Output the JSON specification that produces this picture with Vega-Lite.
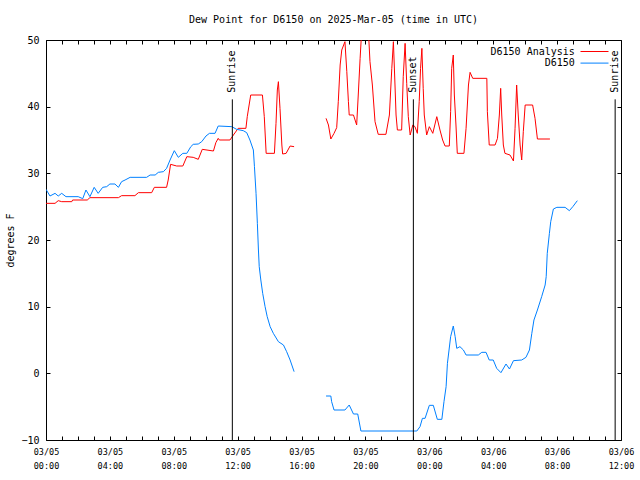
{
  "$schema": "https://vega.github.io/schema/vega-lite/v6.json",
  "width": 575,
  "height": 400,
  "autosize": "none",
  "padding": {"left": 46, "top": 40, "right": 19, "bottom": 40},
  "background": "white",
  "title": {"text": "Dew Point for D6150 on 2025-Mar-05 (time in UTC)", "font": "DejaVu Sans Mono", "fontSize": 10, "fontWeight": "normal", "color": "black", "offset": 2, "anchor": "middle"},
  "config": {"view": {"stroke": "black", "strokeWidth": 1}},
  "datasets": {
    "sun": [
      {"t": "2025-03-05T11:40:00Z", "event": "Sunrise"},
      {"t": "2025-03-05T23:00:00Z", "event": "Sunset"},
      {"t": "2025-03-06T11:38:00Z", "event": "Sunrise"}
    ],
    "obs": [
      {"t": "2025-03-05T00:00:00Z", "series": "D6150 Analysis", "seg": 1, "v": 25.5},
      {"t": "2025-03-05T00:34:00Z", "series": "D6150 Analysis", "seg": 1, "v": 25.5},
      {"t": "2025-03-05T00:46:00Z", "series": "D6150 Analysis", "seg": 1, "v": 25.9},
      {"t": "2025-03-05T00:59:00Z", "series": "D6150 Analysis", "seg": 1, "v": 25.75},
      {"t": "2025-03-05T01:37:00Z", "series": "D6150 Analysis", "seg": 1, "v": 25.75},
      {"t": "2025-03-05T01:40:00Z", "series": "D6150 Analysis", "seg": 1, "v": 26.0},
      {"t": "2025-03-05T02:35:00Z", "series": "D6150 Analysis", "seg": 1, "v": 26.0},
      {"t": "2025-03-05T02:45:00Z", "series": "D6150 Analysis", "seg": 1, "v": 26.35},
      {"t": "2025-03-05T04:32:00Z", "series": "D6150 Analysis", "seg": 1, "v": 26.35},
      {"t": "2025-03-05T04:44:00Z", "series": "D6150 Analysis", "seg": 1, "v": 26.65},
      {"t": "2025-03-05T05:34:00Z", "series": "D6150 Analysis", "seg": 1, "v": 26.65},
      {"t": "2025-03-05T05:47:00Z", "series": "D6150 Analysis", "seg": 1, "v": 27.1},
      {"t": "2025-03-05T06:37:00Z", "series": "D6150 Analysis", "seg": 1, "v": 27.1},
      {"t": "2025-03-05T06:47:00Z", "series": "D6150 Analysis", "seg": 1, "v": 27.9},
      {"t": "2025-03-05T07:33:00Z", "series": "D6150 Analysis", "seg": 1, "v": 27.9},
      {"t": "2025-03-05T07:39:00Z", "series": "D6150 Analysis", "seg": 1, "v": 29.0},
      {"t": "2025-03-05T07:48:00Z", "series": "D6150 Analysis", "seg": 1, "v": 31.35},
      {"t": "2025-03-05T08:11:00Z", "series": "D6150 Analysis", "seg": 1, "v": 31.1},
      {"t": "2025-03-05T08:34:00Z", "series": "D6150 Analysis", "seg": 1, "v": 31.1},
      {"t": "2025-03-05T08:49:00Z", "series": "D6150 Analysis", "seg": 1, "v": 32.5},
      {"t": "2025-03-05T09:13:00Z", "series": "D6150 Analysis", "seg": 1, "v": 32.4},
      {"t": "2025-03-05T09:32:00Z", "series": "D6150 Analysis", "seg": 1, "v": 32.1},
      {"t": "2025-03-05T09:47:00Z", "series": "D6150 Analysis", "seg": 1, "v": 33.6},
      {"t": "2025-03-05T10:29:00Z", "series": "D6150 Analysis", "seg": 1, "v": 33.35},
      {"t": "2025-03-05T10:38:00Z", "series": "D6150 Analysis", "seg": 1, "v": 34.6},
      {"t": "2025-03-05T10:47:00Z", "series": "D6150 Analysis", "seg": 1, "v": 35.25},
      {"t": "2025-03-05T10:51:00Z", "series": "D6150 Analysis", "seg": 1, "v": 35.0},
      {"t": "2025-03-05T11:31:00Z", "series": "D6150 Analysis", "seg": 1, "v": 35.0},
      {"t": "2025-03-05T11:44:00Z", "series": "D6150 Analysis", "seg": 1, "v": 35.75},
      {"t": "2025-03-05T12:02:00Z", "series": "D6150 Analysis", "seg": 1, "v": 36.75},
      {"t": "2025-03-05T12:31:00Z", "series": "D6150 Analysis", "seg": 1, "v": 36.75},
      {"t": "2025-03-05T12:36:00Z", "series": "D6150 Analysis", "seg": 1, "v": 38.5},
      {"t": "2025-03-05T12:49:00Z", "series": "D6150 Analysis", "seg": 1, "v": 41.75},
      {"t": "2025-03-05T13:33:00Z", "series": "D6150 Analysis", "seg": 1, "v": 41.75},
      {"t": "2025-03-05T13:40:00Z", "series": "D6150 Analysis", "seg": 1, "v": 38.5},
      {"t": "2025-03-05T13:47:00Z", "series": "D6150 Analysis", "seg": 1, "v": 33.0},
      {"t": "2025-03-05T14:18:00Z", "series": "D6150 Analysis", "seg": 1, "v": 33.0},
      {"t": "2025-03-05T14:24:00Z", "series": "D6150 Analysis", "seg": 1, "v": 37.5},
      {"t": "2025-03-05T14:29:00Z", "series": "D6150 Analysis", "seg": 1, "v": 42.5},
      {"t": "2025-03-05T14:33:00Z", "series": "D6150 Analysis", "seg": 1, "v": 43.75},
      {"t": "2025-03-05T14:39:00Z", "series": "D6150 Analysis", "seg": 1, "v": 39.75},
      {"t": "2025-03-05T14:46:00Z", "series": "D6150 Analysis", "seg": 1, "v": 34.25},
      {"t": "2025-03-05T14:49:00Z", "series": "D6150 Analysis", "seg": 1, "v": 32.9},
      {"t": "2025-03-05T15:02:00Z", "series": "D6150 Analysis", "seg": 1, "v": 33.0},
      {"t": "2025-03-05T15:17:00Z", "series": "D6150 Analysis", "seg": 1, "v": 34.1},
      {"t": "2025-03-05T15:32:00Z", "series": "D6150 Analysis", "seg": 1, "v": 34.0},
      {"t": "2025-03-05T17:32:00Z", "series": "D6150 Analysis", "seg": 2, "v": 38.25},
      {"t": "2025-03-05T17:41:00Z", "series": "D6150 Analysis", "seg": 2, "v": 37.25},
      {"t": "2025-03-05T17:50:00Z", "series": "D6150 Analysis", "seg": 2, "v": 35.15},
      {"t": "2025-03-05T18:02:00Z", "series": "D6150 Analysis", "seg": 2, "v": 36.0},
      {"t": "2025-03-05T18:12:00Z", "series": "D6150 Analysis", "seg": 2, "v": 36.85},
      {"t": "2025-03-05T18:18:00Z", "series": "D6150 Analysis", "seg": 2, "v": 40.75},
      {"t": "2025-03-05T18:25:00Z", "series": "D6150 Analysis", "seg": 2, "v": 46.25},
      {"t": "2025-03-05T18:31:00Z", "series": "D6150 Analysis", "seg": 2, "v": 48.5},
      {"t": "2025-03-05T18:43:00Z", "series": "D6150 Analysis", "seg": 2, "v": 49.75},
      {"t": "2025-03-05T18:50:00Z", "series": "D6150 Analysis", "seg": 2, "v": 45.25},
      {"t": "2025-03-05T18:56:00Z", "series": "D6150 Analysis", "seg": 2, "v": 40.75},
      {"t": "2025-03-05T18:59:00Z", "series": "D6150 Analysis", "seg": 2, "v": 38.75},
      {"t": "2025-03-05T19:15:00Z", "series": "D6150 Analysis", "seg": 2, "v": 38.75},
      {"t": "2025-03-05T19:27:00Z", "series": "D6150 Analysis", "seg": 2, "v": 37.25},
      {"t": "2025-03-05T19:33:00Z", "series": "D6150 Analysis", "seg": 2, "v": 41.75},
      {"t": "2025-03-05T19:40:00Z", "series": "D6150 Analysis", "seg": 2, "v": 47.25},
      {"t": "2025-03-05T19:46:00Z", "series": "D6150 Analysis", "seg": 2, "v": 51.5},
      {"t": "2025-03-05T20:11:00Z", "series": "D6150 Analysis", "seg": 2, "v": 51.5},
      {"t": "2025-03-05T20:17:00Z", "series": "D6150 Analysis", "seg": 2, "v": 46.75},
      {"t": "2025-03-05T20:26:00Z", "series": "D6150 Analysis", "seg": 2, "v": 43.25},
      {"t": "2025-03-05T20:36:00Z", "series": "D6150 Analysis", "seg": 2, "v": 37.75},
      {"t": "2025-03-05T20:48:00Z", "series": "D6150 Analysis", "seg": 2, "v": 35.85},
      {"t": "2025-03-05T21:17:00Z", "series": "D6150 Analysis", "seg": 2, "v": 35.85},
      {"t": "2025-03-05T21:30:00Z", "series": "D6150 Analysis", "seg": 2, "v": 38.75},
      {"t": "2025-03-05T21:39:00Z", "series": "D6150 Analysis", "seg": 2, "v": 45.75},
      {"t": "2025-03-05T21:45:00Z", "series": "D6150 Analysis", "seg": 2, "v": 49.75},
      {"t": "2025-03-05T21:51:00Z", "series": "D6150 Analysis", "seg": 2, "v": 43.25},
      {"t": "2025-03-05T21:55:00Z", "series": "D6150 Analysis", "seg": 2, "v": 38.75},
      {"t": "2025-03-05T22:00:00Z", "series": "D6150 Analysis", "seg": 2, "v": 36.5},
      {"t": "2025-03-05T22:16:00Z", "series": "D6150 Analysis", "seg": 2, "v": 36.5},
      {"t": "2025-03-05T22:22:00Z", "series": "D6150 Analysis", "seg": 2, "v": 44.5},
      {"t": "2025-03-05T22:29:00Z", "series": "D6150 Analysis", "seg": 2, "v": 49.5},
      {"t": "2025-03-05T22:35:00Z", "series": "D6150 Analysis", "seg": 2, "v": 43.5},
      {"t": "2025-03-05T22:41:00Z", "series": "D6150 Analysis", "seg": 2, "v": 38.5},
      {"t": "2025-03-05T22:48:00Z", "series": "D6150 Analysis", "seg": 2, "v": 35.75},
      {"t": "2025-03-05T22:58:00Z", "series": "D6150 Analysis", "seg": 2, "v": 37.25},
      {"t": "2025-03-05T23:06:00Z", "series": "D6150 Analysis", "seg": 2, "v": 37.0},
      {"t": "2025-03-05T23:15:00Z", "series": "D6150 Analysis", "seg": 2, "v": 36.0},
      {"t": "2025-03-05T23:22:00Z", "series": "D6150 Analysis", "seg": 2, "v": 40.75},
      {"t": "2025-03-05T23:27:00Z", "series": "D6150 Analysis", "seg": 2, "v": 45.75},
      {"t": "2025-03-05T23:32:00Z", "series": "D6150 Analysis", "seg": 2, "v": 48.75},
      {"t": "2025-03-05T23:37:00Z", "series": "D6150 Analysis", "seg": 2, "v": 42.75},
      {"t": "2025-03-05T23:41:00Z", "series": "D6150 Analysis", "seg": 2, "v": 38.75},
      {"t": "2025-03-05T23:50:00Z", "series": "D6150 Analysis", "seg": 2, "v": 35.75},
      {"t": "2025-03-06T00:00:00Z", "series": "D6150 Analysis", "seg": 2, "v": 37.0},
      {"t": "2025-03-06T00:13:00Z", "series": "D6150 Analysis", "seg": 2, "v": 36.0},
      {"t": "2025-03-06T00:28:00Z", "series": "D6150 Analysis", "seg": 2, "v": 38.5},
      {"t": "2025-03-06T00:40:00Z", "series": "D6150 Analysis", "seg": 2, "v": 36.5},
      {"t": "2025-03-06T00:50:00Z", "series": "D6150 Analysis", "seg": 2, "v": 35.0},
      {"t": "2025-03-06T00:59:00Z", "series": "D6150 Analysis", "seg": 2, "v": 34.1},
      {"t": "2025-03-06T01:15:00Z", "series": "D6150 Analysis", "seg": 2, "v": 34.1},
      {"t": "2025-03-06T01:20:00Z", "series": "D6150 Analysis", "seg": 2, "v": 39.25},
      {"t": "2025-03-06T01:24:00Z", "series": "D6150 Analysis", "seg": 2, "v": 45.75},
      {"t": "2025-03-06T01:30:00Z", "series": "D6150 Analysis", "seg": 2, "v": 47.75},
      {"t": "2025-03-06T01:34:00Z", "series": "D6150 Analysis", "seg": 2, "v": 41.75},
      {"t": "2025-03-06T01:40:00Z", "series": "D6150 Analysis", "seg": 2, "v": 37.25},
      {"t": "2025-03-06T01:45:00Z", "series": "D6150 Analysis", "seg": 2, "v": 33.0},
      {"t": "2025-03-06T02:10:00Z", "series": "D6150 Analysis", "seg": 2, "v": 33.0},
      {"t": "2025-03-06T02:18:00Z", "series": "D6150 Analysis", "seg": 2, "v": 36.75},
      {"t": "2025-03-06T02:27:00Z", "series": "D6150 Analysis", "seg": 2, "v": 43.25},
      {"t": "2025-03-06T02:33:00Z", "series": "D6150 Analysis", "seg": 2, "v": 45.15},
      {"t": "2025-03-06T02:43:00Z", "series": "D6150 Analysis", "seg": 2, "v": 44.25},
      {"t": "2025-03-06T03:36:00Z", "series": "D6150 Analysis", "seg": 2, "v": 44.25},
      {"t": "2025-03-06T03:38:00Z", "series": "D6150 Analysis", "seg": 2, "v": 39.25},
      {"t": "2025-03-06T03:45:00Z", "series": "D6150 Analysis", "seg": 2, "v": 34.25},
      {"t": "2025-03-06T04:07:00Z", "series": "D6150 Analysis", "seg": 2, "v": 34.25},
      {"t": "2025-03-06T04:16:00Z", "series": "D6150 Analysis", "seg": 2, "v": 35.25},
      {"t": "2025-03-06T04:23:00Z", "series": "D6150 Analysis", "seg": 2, "v": 38.75},
      {"t": "2025-03-06T04:28:00Z", "series": "D6150 Analysis", "seg": 2, "v": 42.75},
      {"t": "2025-03-06T04:32:00Z", "series": "D6150 Analysis", "seg": 2, "v": 38.75},
      {"t": "2025-03-06T04:38:00Z", "series": "D6150 Analysis", "seg": 2, "v": 34.25},
      {"t": "2025-03-06T04:44:00Z", "series": "D6150 Analysis", "seg": 2, "v": 33.0},
      {"t": "2025-03-06T05:03:00Z", "series": "D6150 Analysis", "seg": 2, "v": 32.75},
      {"t": "2025-03-06T05:16:00Z", "series": "D6150 Analysis", "seg": 2, "v": 31.85},
      {"t": "2025-03-06T05:22:00Z", "series": "D6150 Analysis", "seg": 2, "v": 36.75},
      {"t": "2025-03-06T05:28:00Z", "series": "D6150 Analysis", "seg": 2, "v": 43.25},
      {"t": "2025-03-06T05:34:00Z", "series": "D6150 Analysis", "seg": 2, "v": 38.75},
      {"t": "2025-03-06T05:41:00Z", "series": "D6150 Analysis", "seg": 2, "v": 34.25},
      {"t": "2025-03-06T05:47:00Z", "series": "D6150 Analysis", "seg": 2, "v": 32.0},
      {"t": "2025-03-06T05:53:00Z", "series": "D6150 Analysis", "seg": 2, "v": 36.25},
      {"t": "2025-03-06T06:00:00Z", "series": "D6150 Analysis", "seg": 2, "v": 40.25},
      {"t": "2025-03-06T06:28:00Z", "series": "D6150 Analysis", "seg": 2, "v": 40.25},
      {"t": "2025-03-06T06:37:00Z", "series": "D6150 Analysis", "seg": 2, "v": 38.25},
      {"t": "2025-03-06T06:46:00Z", "series": "D6150 Analysis", "seg": 2, "v": 35.15},
      {"t": "2025-03-06T07:33:00Z", "series": "D6150 Analysis", "seg": 2, "v": 35.15},

      {"t": "2025-03-05T00:00:00Z", "series": "D6150", "seg": 1, "v": 27.6},
      {"t": "2025-03-05T00:15:00Z", "series": "D6150", "seg": 1, "v": 26.6},
      {"t": "2025-03-05T00:34:00Z", "series": "D6150", "seg": 1, "v": 27.0},
      {"t": "2025-03-05T00:46:00Z", "series": "D6150", "seg": 1, "v": 26.6},
      {"t": "2025-03-05T00:59:00Z", "series": "D6150", "seg": 1, "v": 27.0},
      {"t": "2025-03-05T01:15:00Z", "series": "D6150", "seg": 1, "v": 26.5},
      {"t": "2025-03-05T02:01:00Z", "series": "D6150", "seg": 1, "v": 26.5},
      {"t": "2025-03-05T02:18:00Z", "series": "D6150", "seg": 1, "v": 26.2},
      {"t": "2025-03-05T02:30:00Z", "series": "D6150", "seg": 1, "v": 27.5},
      {"t": "2025-03-05T02:45:00Z", "series": "D6150", "seg": 1, "v": 26.5},
      {"t": "2025-03-05T03:01:00Z", "series": "D6150", "seg": 1, "v": 27.9},
      {"t": "2025-03-05T03:16:00Z", "series": "D6150", "seg": 1, "v": 27.0},
      {"t": "2025-03-05T03:33:00Z", "series": "D6150", "seg": 1, "v": 27.9},
      {"t": "2025-03-05T03:48:00Z", "series": "D6150", "seg": 1, "v": 28.0},
      {"t": "2025-03-05T04:00:00Z", "series": "D6150", "seg": 1, "v": 28.4},
      {"t": "2025-03-05T04:19:00Z", "series": "D6150", "seg": 1, "v": 28.4},
      {"t": "2025-03-05T04:32:00Z", "series": "D6150", "seg": 1, "v": 27.9},
      {"t": "2025-03-05T04:44:00Z", "series": "D6150", "seg": 1, "v": 28.75},
      {"t": "2025-03-05T04:57:00Z", "series": "D6150", "seg": 1, "v": 29.0},
      {"t": "2025-03-05T05:16:00Z", "series": "D6150", "seg": 1, "v": 29.4},
      {"t": "2025-03-05T06:18:00Z", "series": "D6150", "seg": 1, "v": 29.4},
      {"t": "2025-03-05T06:31:00Z", "series": "D6150", "seg": 1, "v": 29.75},
      {"t": "2025-03-05T06:50:00Z", "series": "D6150", "seg": 1, "v": 29.75},
      {"t": "2025-03-05T07:02:00Z", "series": "D6150", "seg": 1, "v": 30.15},
      {"t": "2025-03-05T07:21:00Z", "series": "D6150", "seg": 1, "v": 30.25},
      {"t": "2025-03-05T07:33:00Z", "series": "D6150", "seg": 1, "v": 30.75},
      {"t": "2025-03-05T07:46:00Z", "series": "D6150", "seg": 1, "v": 32.0},
      {"t": "2025-03-05T08:02:00Z", "series": "D6150", "seg": 1, "v": 33.4},
      {"t": "2025-03-05T08:17:00Z", "series": "D6150", "seg": 1, "v": 32.4},
      {"t": "2025-03-05T08:34:00Z", "series": "D6150", "seg": 1, "v": 33.0},
      {"t": "2025-03-05T08:49:00Z", "series": "D6150", "seg": 1, "v": 33.0},
      {"t": "2025-03-05T09:04:00Z", "series": "D6150", "seg": 1, "v": 34.0},
      {"t": "2025-03-05T09:13:00Z", "series": "D6150", "seg": 1, "v": 34.35},
      {"t": "2025-03-05T09:32:00Z", "series": "D6150", "seg": 1, "v": 34.4},
      {"t": "2025-03-05T09:45:00Z", "series": "D6150", "seg": 1, "v": 34.75},
      {"t": "2025-03-05T10:01:00Z", "series": "D6150", "seg": 1, "v": 35.6},
      {"t": "2025-03-05T10:14:00Z", "series": "D6150", "seg": 1, "v": 36.0},
      {"t": "2025-03-05T10:35:00Z", "series": "D6150", "seg": 1, "v": 36.0},
      {"t": "2025-03-05T10:47:00Z", "series": "D6150", "seg": 1, "v": 37.1},
      {"t": "2025-03-05T11:38:00Z", "series": "D6150", "seg": 1, "v": 37.0},
      {"t": "2025-03-05T11:56:00Z", "series": "D6150", "seg": 1, "v": 36.6},
      {"t": "2025-03-05T12:21:00Z", "series": "D6150", "seg": 1, "v": 36.4},
      {"t": "2025-03-05T12:34:00Z", "series": "D6150", "seg": 1, "v": 36.1},
      {"t": "2025-03-05T12:46:00Z", "series": "D6150", "seg": 1, "v": 35.0},
      {"t": "2025-03-05T12:59:00Z", "series": "D6150", "seg": 1, "v": 33.5},
      {"t": "2025-03-05T13:03:00Z", "series": "D6150", "seg": 1, "v": 31.0},
      {"t": "2025-03-05T13:09:00Z", "series": "D6150", "seg": 1, "v": 27.0},
      {"t": "2025-03-05T13:14:00Z", "series": "D6150", "seg": 1, "v": 22.5},
      {"t": "2025-03-05T13:18:00Z", "series": "D6150", "seg": 1, "v": 18.5},
      {"t": "2025-03-05T13:21:00Z", "series": "D6150", "seg": 1, "v": 16.0},
      {"t": "2025-03-05T13:27:00Z", "series": "D6150", "seg": 1, "v": 14.0},
      {"t": "2025-03-05T13:34:00Z", "series": "D6150", "seg": 1, "v": 12.0},
      {"t": "2025-03-05T13:43:00Z", "series": "D6150", "seg": 1, "v": 10.0},
      {"t": "2025-03-05T13:51:00Z", "series": "D6150", "seg": 1, "v": 8.5},
      {"t": "2025-03-05T14:02:00Z", "series": "D6150", "seg": 1, "v": 7.0},
      {"t": "2025-03-05T14:14:00Z", "series": "D6150", "seg": 1, "v": 6.0},
      {"t": "2025-03-05T14:33:00Z", "series": "D6150", "seg": 1, "v": 4.75},
      {"t": "2025-03-05T14:52:00Z", "series": "D6150", "seg": 1, "v": 4.25},
      {"t": "2025-03-05T15:04:00Z", "series": "D6150", "seg": 1, "v": 3.25},
      {"t": "2025-03-05T15:17:00Z", "series": "D6150", "seg": 1, "v": 2.0},
      {"t": "2025-03-05T15:32:00Z", "series": "D6150", "seg": 1, "v": 0.25},
      {"t": "2025-03-05T17:32:00Z", "series": "D6150", "seg": 2, "v": -3.4},
      {"t": "2025-03-05T17:50:00Z", "series": "D6150", "seg": 2, "v": -3.4},
      {"t": "2025-03-05T17:53:00Z", "series": "D6150", "seg": 2, "v": -4.25},
      {"t": "2025-03-05T18:02:00Z", "series": "D6150", "seg": 2, "v": -5.5},
      {"t": "2025-03-05T18:43:00Z", "series": "D6150", "seg": 2, "v": -5.5},
      {"t": "2025-03-05T18:59:00Z", "series": "D6150", "seg": 2, "v": -4.75},
      {"t": "2025-03-05T19:15:00Z", "series": "D6150", "seg": 2, "v": -6.1},
      {"t": "2025-03-05T19:31:00Z", "series": "D6150", "seg": 2, "v": -6.1},
      {"t": "2025-03-05T19:43:00Z", "series": "D6150", "seg": 2, "v": -8.65},
      {"t": "2025-03-05T23:13:00Z", "series": "D6150", "seg": 2, "v": -8.65},
      {"t": "2025-03-05T23:25:00Z", "series": "D6150", "seg": 2, "v": -8.0},
      {"t": "2025-03-05T23:34:00Z", "series": "D6150", "seg": 2, "v": -6.75},
      {"t": "2025-03-05T23:44:00Z", "series": "D6150", "seg": 2, "v": -6.75},
      {"t": "2025-03-06T00:00:00Z", "series": "D6150", "seg": 2, "v": -4.8},
      {"t": "2025-03-06T00:15:00Z", "series": "D6150", "seg": 2, "v": -4.8},
      {"t": "2025-03-06T00:30:00Z", "series": "D6150", "seg": 2, "v": -6.9},
      {"t": "2025-03-06T00:47:00Z", "series": "D6150", "seg": 2, "v": -6.9},
      {"t": "2025-03-06T00:55:00Z", "series": "D6150", "seg": 2, "v": -4.25},
      {"t": "2025-03-06T01:03:00Z", "series": "D6150", "seg": 2, "v": -2.0},
      {"t": "2025-03-06T01:08:00Z", "series": "D6150", "seg": 2, "v": 1.5},
      {"t": "2025-03-06T01:14:00Z", "series": "D6150", "seg": 2, "v": 3.5},
      {"t": "2025-03-06T01:20:00Z", "series": "D6150", "seg": 2, "v": 5.5},
      {"t": "2025-03-06T01:30:00Z", "series": "D6150", "seg": 2, "v": 7.1},
      {"t": "2025-03-06T01:37:00Z", "series": "D6150", "seg": 2, "v": 5.5},
      {"t": "2025-03-06T01:43:00Z", "series": "D6150", "seg": 2, "v": 3.75},
      {"t": "2025-03-06T01:55:00Z", "series": "D6150", "seg": 2, "v": 4.0},
      {"t": "2025-03-06T02:08:00Z", "series": "D6150", "seg": 2, "v": 3.5},
      {"t": "2025-03-06T02:18:00Z", "series": "D6150", "seg": 2, "v": 2.75},
      {"t": "2025-03-06T03:04:00Z", "series": "D6150", "seg": 2, "v": 2.75},
      {"t": "2025-03-06T03:17:00Z", "series": "D6150", "seg": 2, "v": 3.15},
      {"t": "2025-03-06T03:33:00Z", "series": "D6150", "seg": 2, "v": 3.15},
      {"t": "2025-03-06T03:45:00Z", "series": "D6150", "seg": 2, "v": 2.0},
      {"t": "2025-03-06T04:00:00Z", "series": "D6150", "seg": 2, "v": 2.0},
      {"t": "2025-03-06T04:13:00Z", "series": "D6150", "seg": 2, "v": 0.75},
      {"t": "2025-03-06T04:29:00Z", "series": "D6150", "seg": 2, "v": 0.1},
      {"t": "2025-03-06T04:48:00Z", "series": "D6150", "seg": 2, "v": 1.4},
      {"t": "2025-03-06T05:01:00Z", "series": "D6150", "seg": 2, "v": 0.65},
      {"t": "2025-03-06T05:16:00Z", "series": "D6150", "seg": 2, "v": 1.9},
      {"t": "2025-03-06T05:47:00Z", "series": "D6150", "seg": 2, "v": 2.0},
      {"t": "2025-03-06T06:03:00Z", "series": "D6150", "seg": 2, "v": 2.4},
      {"t": "2025-03-06T06:16:00Z", "series": "D6150", "seg": 2, "v": 3.5},
      {"t": "2025-03-06T06:25:00Z", "series": "D6150", "seg": 2, "v": 6.0},
      {"t": "2025-03-06T06:33:00Z", "series": "D6150", "seg": 2, "v": 8.0},
      {"t": "2025-03-06T06:46:00Z", "series": "D6150", "seg": 2, "v": 9.5},
      {"t": "2025-03-06T07:02:00Z", "series": "D6150", "seg": 2, "v": 11.5},
      {"t": "2025-03-06T07:15:00Z", "series": "D6150", "seg": 2, "v": 13.25},
      {"t": "2025-03-06T07:19:00Z", "series": "D6150", "seg": 2, "v": 14.5},
      {"t": "2025-03-06T07:23:00Z", "series": "D6150", "seg": 2, "v": 18.0},
      {"t": "2025-03-06T07:31:00Z", "series": "D6150", "seg": 2, "v": 21.0},
      {"t": "2025-03-06T07:36:00Z", "series": "D6150", "seg": 2, "v": 22.75},
      {"t": "2025-03-06T07:46:00Z", "series": "D6150", "seg": 2, "v": 24.65},
      {"t": "2025-03-06T07:59:00Z", "series": "D6150", "seg": 2, "v": 24.9},
      {"t": "2025-03-06T08:30:00Z", "series": "D6150", "seg": 2, "v": 24.9},
      {"t": "2025-03-06T08:46:00Z", "series": "D6150", "seg": 2, "v": 24.4},
      {"t": "2025-03-06T08:59:00Z", "series": "D6150", "seg": 2, "v": 25.0},
      {"t": "2025-03-06T09:16:00Z", "series": "D6150", "seg": 2, "v": 25.9}
    ]
  },
  "resolve": {"axis": {"x": "independent", "y": "independent"}},
  "layer": [
    {
      "data": {"name": "obs"},
      "mark": {"type": "line", "strokeWidth": 1, "clip": true},
      "encoding": {
        "x": {
          "field": "t", "type": "temporal",
          "scale": {"type": "utc", "domain": [{"year": 2025, "month": 3, "date": 5, "hours": 0, "utc": true}, {"year": 2025, "month": 3, "date": 6, "hours": 12, "utc": true}]},
          "axis": {"orient": "bottom", "ticks": false, "domain": false, "grid": false,
            "values": [
              {"year": 2025, "month": 3, "date": 5, "hours": 0, "utc": true},
              {"year": 2025, "month": 3, "date": 5, "hours": 4, "utc": true},
              {"year": 2025, "month": 3, "date": 5, "hours": 8, "utc": true},
              {"year": 2025, "month": 3, "date": 5, "hours": 12, "utc": true},
              {"year": 2025, "month": 3, "date": 5, "hours": 16, "utc": true},
              {"year": 2025, "month": 3, "date": 5, "hours": 20, "utc": true},
              {"year": 2025, "month": 3, "date": 6, "hours": 0, "utc": true},
              {"year": 2025, "month": 3, "date": 6, "hours": 4, "utc": true},
              {"year": 2025, "month": 3, "date": 6, "hours": 8, "utc": true},
              {"year": 2025, "month": 3, "date": 6, "hours": 12, "utc": true}
            ],
            "labelExpr": "[utcFormat(datum.value, '%m/%d'), utcFormat(datum.value, '%H:%M')]", "labelFont": "DejaVu Sans Mono", "labelFontSize": 8.5, "labelColor": "black", "labelLineHeight": 14, "labelPadding": 7.5, "labelOverlap": false, "labelFlush": false, "labelBound": false, "title": null}
        },
        "y": {
          "field": "v", "type": "quantitative",
          "scale": {"domain": [-10, 50], "nice": false, "zero": false},
          "axis": {"orient": "left", "values": [-10, 0, 10, 20, 30, 40, 50], "ticks": false, "domain": false, "grid": false, "labelFont": "DejaVu Sans Mono", "labelFontSize": 10, "labelColor": "black", "labelPadding": 7, "title": "degrees F", "titleFont": "DejaVu Sans Mono", "titleFontSize": 10, "titleFontWeight": "normal", "titleColor": "black", "titleX": -36, "titleY": 200, "titleBaseline": "middle", "titleAngle": 270, "titleAlign": "center"}
        },
        "color": {
          "field": "series", "type": "nominal",
          "scale": {"domain": ["D6150 Analysis", "D6150"], "range": ["#ff0000", "#0080ff"]},
          "legend": {"title": null, "orient": "none", "legendX": 543.5, "legendY": 6.5, "symbolType": "M-4,0H4", "symbolSize": 49, "symbolStrokeWidth": 1, "symbolFillColor": "transparent", "labelAlign": "right", "labelOffset": -24.7, "labelFont": "DejaVu Sans Mono", "labelFontSize": 10, "labelColor": "black", "rowPadding": 1.6, "padding": 0}
        },
        "detail": {"field": "seg", "type": "nominal"}
      }
    },
    {
      "data": {"name": "sun"},
      "mark": {"type": "rule", "color": "black", "strokeWidth": 1},
      "encoding": {
        "x": {"field": "t", "type": "temporal", "axis": null},
        "y": {"datum": 41.1, "type": "quantitative", "axis": null},
        "y2": {"datum": -10}
      }
    },
    {
      "data": {"name": "sun"},
      "mark": {"type": "text", "angle": 270, "align": "left", "baseline": "middle", "font": "DejaVu Sans Mono", "fontSize": 10, "color": "black"},
      "encoding": {
        "x": {"field": "t", "type": "temporal", "axis": null},
        "y": {"datum": 42.1, "type": "quantitative", "axis": null},
        "text": {"field": "event"}
      }
    },
    {
      "data": {"name": "obs"},
      "mark": {"type": "point", "opacity": 0},
      "encoding": {
        "x": {"field": "t", "type": "temporal", "axis": {"orient": "bottom", "offset": -4, "labels": false, "domain": false, "grid": false, "ticks": true, "tickSize": 4, "tickColor": "black", "tickWidth": 1, "tickCount": 36, "title": null}},
        "y": {"field": "v", "type": "quantitative", "axis": {"orient": "left", "offset": -4, "labels": false, "domain": false, "grid": false, "ticks": true, "tickSize": 4, "tickColor": "black", "tickWidth": 1, "values": [-10, 0, 10, 20, 30, 40, 50], "title": null}}
      }
    },
    {
      "data": {"name": "obs"},
      "mark": {"type": "point", "opacity": 0},
      "encoding": {
        "x": {"field": "t", "type": "temporal", "axis": {"orient": "top", "offset": -4, "labels": false, "domain": false, "grid": false, "ticks": true, "tickSize": 4, "tickColor": "black", "tickWidth": 1, "tickCount": 36, "title": null}},
        "y": {"field": "v", "type": "quantitative", "axis": {"orient": "right", "offset": -4, "labels": false, "domain": false, "grid": false, "ticks": true, "tickSize": 4, "tickColor": "black", "tickWidth": 1, "values": [-10, 0, 10, 20, 30, 40, 50], "title": null}}
      }
    }
  ]
}
